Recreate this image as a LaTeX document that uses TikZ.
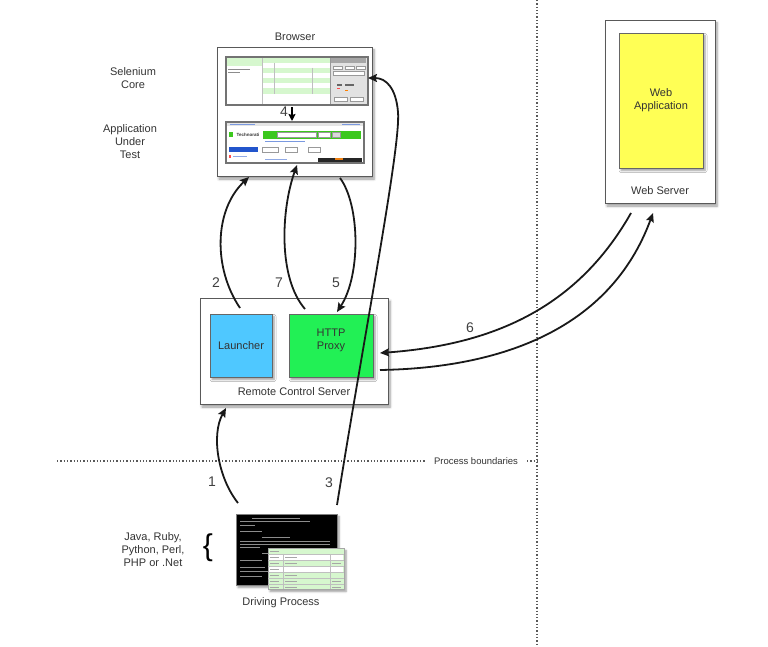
\documentclass[tikz,border=0pt]{standalone}
\usepackage{fontspec}
\setmainfont{Liberation Sans}
\usetikzlibrary{arrows.meta,shadows.blur}

\definecolor{txt}{HTML}{333333}
\definecolor{launcherblue}{HTML}{4FC8FF}
\definecolor{proxygreen}{HTML}{22F055}
\definecolor{appyellow}{HTML}{FFFF55}
\definecolor{lgreen}{HTML}{D6F7CE}
\definecolor{mgreen}{HTML}{3CC81E}
\definecolor{panelgray}{HTML}{E2E2E2}
\definecolor{navblue}{HTML}{2255CC}

\tikzset{
 lbl/.style={font=\fontsize{11}{13}\selectfont, text=txt, align=center, inner sep=0pt},
 num/.style={font=\fontsize{14}{16}\selectfont, text=black!75, inner sep=0pt},
 small/.style={font=\fontsize{9.5}{11}\selectfont, text=txt, inner sep=0pt},
 box/.style={draw=black!65, line width=0.9pt, fill=white, inner sep=0pt, outer sep=0pt,
   blur shadow={shadow xshift=2pt, shadow yshift=-3pt, shadow blur steps=6, shadow blur radius=2.5pt}},
 inbox/.style={draw=black!60, line width=0.6pt, inner sep=0pt, outer sep=0pt,
   blur shadow={shadow xshift=2pt, shadow yshift=-2.5pt, shadow blur steps=5, shadow blur radius=2pt}},
 shot/.style={draw=black!55, line width=1.3pt, fill=white, inner sep=0pt, outer sep=0pt},
 flow/.style={line width=1.8pt, draw=black!90, -{Stealth[length=9pt,width=8pt,inset=1.5pt]}},
 bound/.style={line width=1.3pt, dotted, black!65},
}

\begin{document}
\begin{tikzpicture}[x=1pt,y=-1pt]
\useasboundingbox (0,0) rectangle (768,647);

% process boundaries
\draw[bound] (537,0) -- (537,647);
\node[small] (pb) at (476,461) {Process boundaries};
\draw[bound] (57,461) -- (425,461);
\draw[bound] (527,461) -- (537,461);

% ---------- Browser ----------
\node[lbl] (browserlbl) at (295,37) {Browser};
\node[box, minimum width=155pt, minimum height=129pt] (browser) at (294.5,111.5) {};
% top screenshot (Selenium TestRunner)
\node[shot, minimum width=142pt, minimum height=48pt] (topshot) at (297,81) {};
\fill[lgreen] (227,58) rectangle (262,66);
\fill[lgreen] (262,58) rectangle (330,63);
\fill[lgreen] (262,68) rectangle (330,73);
\fill[lgreen] (262,78) rectangle (330,83);
\fill[lgreen] (262,88) rectangle (330,94);
\draw[black!25, line width=0.3pt] (262,58) -- (262,104);
\draw[black!25, line width=0.3pt] (274,63) -- (274,94);
\draw[black!25, line width=0.3pt] (312,68) -- (312,94);
\fill[black!45] (228,69) rectangle (250,70);
\fill[black!45] (228,72) rectangle (240,73);
\fill[panelgray] (330,58) rectangle (367,104);
\draw[black!40, line width=0.4pt] (330,58) -- (330,104);
\fill[black!35] (331,58) rectangle (366,63);
\foreach \xx in {333,345,356} \draw[black!40,line width=0.3pt,fill=white] (\xx,66) rectangle ++(9,3);
\draw[black!40,line width=0.3pt,fill=white] (333,71) rectangle ++(31,4);
\fill[black!60] (337,84) rectangle ++(5,2);
\fill[black!60] (345,84) rectangle ++(9,2);
\fill[red!70] (337,88) rectangle ++(3,1.5);
\fill[orange] (345,90) rectangle ++(3,1.5);
\draw[black!40,line width=0.3pt,fill=white] (334,97) rectangle ++(13,4);
\draw[black!40,line width=0.3pt,fill=white] (350,97) rectangle ++(13,4);
% arrow 4
\coordinate (a4s) at (292,107);
\coordinate (a4e) at (292,121);
\draw[line width=1.6pt, -{Stealth[length=7pt,width=7pt,inset=1pt]}] (a4s) -- (a4e);
\node[num] (n4) at (284,112) {4};
% bottom screenshot (Technorati)
\node[shot, minimum width=138pt, minimum height=41pt] (botshot) at (295,142.5) {};
\fill[black!10] (227,123) rectangle (363,126);
\fill[navblue!60] (230,124) rectangle ++(25,1);
\fill[navblue!60] (342,124) rectangle ++(18,1);
\fill[mgreen] (229,132) rectangle (233,137);
\node[inner sep=0pt, font=\fontsize{4.5}{5}\selectfont\bfseries, text=black!80] (techno) at (248,134.5) {Technorati};
\fill[mgreen] (263,131) rectangle (361,139);
\draw[black!40,line width=0.3pt,fill=white] (277,132.5) rectangle (316,137.5);
\draw[black!40,line width=0.3pt,fill=white] (318,132.5) rectangle (330,137.5);
\draw[black!40,line width=0.3pt,fill=black!15] (332,132.5) rectangle (340,137.5);
\fill[navblue!60] (265,141) rectangle ++(40,1);
\fill[navblue] (229,147) rectangle (258,152);
\fill[red!70] (229,155) rectangle ++(2,3);
\fill[navblue!50] (233,156) rectangle ++(14,1);
\draw[black!40,line width=0.3pt,fill=white] (262,147) rectangle (278,152);
\draw[black!40,line width=0.3pt,fill=white] (285,147) rectangle (297,152);
\draw[black!40,line width=0.3pt,fill=white] (308,147) rectangle (320,152);
\fill[black!85] (318,158) rectangle (362,162.5);
\fill[orange!70!brown] (335,158) rectangle ++(8,2);
\fill[navblue!50] (265,159) rectangle ++(22,1);

% ---------- left labels ----------
\node[lbl] (selcore) at (133,78) {Selenium\\Core};
\node[lbl] (aut) at (130,142) {Application\\Under\\Test};

% ---------- Remote Control Server ----------
\node[box, minimum width=188pt, minimum height=106pt] (rcs) at (294,351) {};
\node[inbox, fill=launcherblue, minimum width=62pt, minimum height=63pt] (launcher) at (241,345.5) {};
\node[lbl] at (launcher) {Launcher};
\node[inbox, fill=proxygreen, minimum width=84pt, minimum height=63pt] (proxy) at (331,345.5) {};
\node[lbl] at (331,340) {HTTP\\Proxy};
\node[lbl] (rcslbl) at (294,392) {Remote Control Server};

% ---------- Web Server ----------
\node[box, minimum width=110pt, minimum height=183pt] (websrv) at (660,111.5) {};
\node[inbox, fill=appyellow, minimum width=84pt, minimum height=135pt] (webapp) at (661,100.5) {};
\node[lbl] at (661,100) {Web\\Application};
\node[lbl] (wslbl) at (660,191) {Web Server};

% ---------- Driving process ----------
\node[inbox, draw=black!50, fill=black, minimum width=101pt, minimum height=71pt] (term) at (286.5,549.5) {};
\foreach \yy/\xa/\xb in {518/252/300, 521/240/310, 525/240/255, 531/240/262, 537/262/290, 541/240/330, 544/240/330, 547/240/260, 553/262/295, 560/240/262, 567/240/265, 571/240/268, 576/240/262}
  \fill[black!45] (\xa,\yy) rectangle (\xb,\yy+1);
\node[inbox, draw=black!35, fill=lgreen, minimum width=76pt, minimum height=41pt] (table) at (306,568.5) {};
\foreach \yy in {554,560,566,572,578,584}
  \draw[black!25, line width=0.4pt] (268,\yy) -- (344,\yy);
\fill[white] (269,555) rectangle (343,559.5);
\fill[white] (269,567) rectangle (343,571.5);
\draw[black!25, line width=0.4pt] (283,554) -- (283,589);
\draw[black!25, line width=0.4pt] (330,554) -- (330,589);
\foreach \yy in {551,557,563,569,575,581,587}
  \fill[black!35] (270,\yy-0.5) rectangle ++(9,0.9);
\foreach \yy in {557,563,575,581,587}
  \fill[black!35] (285,\yy-0.5) rectangle ++(12,0.9);
\foreach \yy in {563,581,587}
  \fill[black!35] (332,\yy-0.5) rectangle ++(9,0.9);
\node[lbl] (dplbl) at (281,603) {Driving Process};
\node[lbl] (langs) at (153,550) {Java, Ruby,\\Python, Perl,\\PHP or .Net};
\node[inner sep=0pt, text=black, font=\fontsize{30}{30}\selectfont] (brace) at (208,548) {\{};

% ---------- connectors ----------
\coordinate (a1s) at (238,503);
\coordinate (a1e) at (226,408);
\draw[flow] (a1s) .. controls (218,478) and (211,435) .. (a1e);
\node[num] (n1) at (212,482) {1};

\coordinate (a2s) at (240,308);
\coordinate (a2e) at (249,177);
\draw[flow] (a2s) .. controls (213,268) and (214,210) .. (a2e);
\node[num] (n2) at (216,283) {2};

\coordinate (a3s) at (337,505);
\coordinate (a3m) at (398,112);
\coordinate (a3e) at (368,78);
\draw[flow] (a3s) .. controls (365,330) and (401,145) .. (a3m) .. controls (396,88) and (386,78) .. (a3e);
\node[num] (n3) at (329,483) {3};

\coordinate (a7s) at (305,309);
\coordinate (a7e) at (297,165);
\draw[flow] (a7s) .. controls (278,278) and (281,210) .. (a7e);
\node[num] (n7) at (279,283) {7};

\coordinate (a5s) at (340,178);
\coordinate (a5e) at (337,312);
\draw[flow] (a5s) .. controls (360,205) and (361,275) .. (a5e);
\node[num] (n5) at (336,283) {5};

\coordinate (a6as) at (631,213);
\coordinate (a6ae) at (380,353);
\draw[flow] (a6as) .. controls (576,310) and (490,345) .. (a6ae);
\coordinate (a6bs) at (380,370);
\coordinate (a6be) at (653,213);
\draw[flow] (a6bs) .. controls (500,368) and (610,330) .. (a6be);
\node[num] (n6) at (470,328) {6};

\end{tikzpicture}
\end{document}
